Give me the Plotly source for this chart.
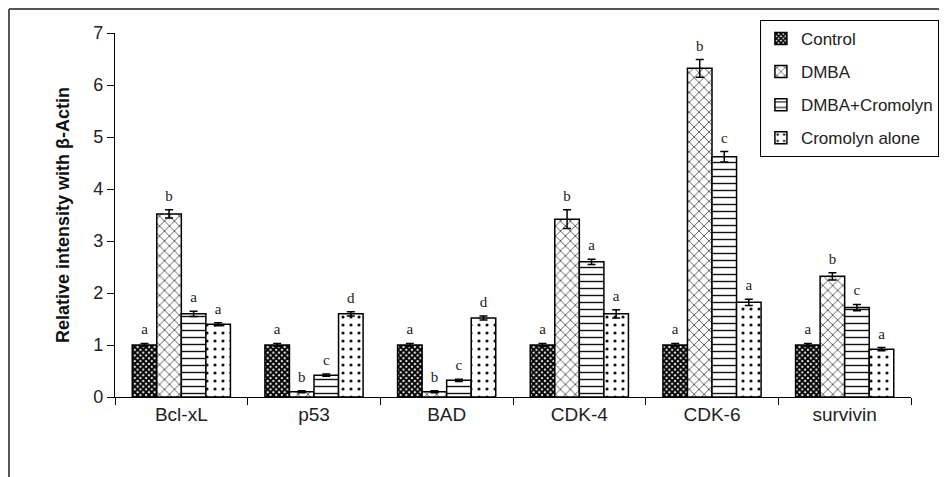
import plotly.graph_objects as go

categories = ["Bcl-xL", "p53", "BAD", "CDK-4", "CDK-6", "survivin"]
series_names = ["Control", "DMBA", "DMBA+Cromolyn", "Cromolyn alone"]

control = [1.0, 1.0, 1.0, 1.0, 1.0, 1.0]
dmba = [3.52, 0.1, 0.1, 3.42, 6.32, 2.32]
dmba_cromolyn = [1.6, 0.42, 0.32, 2.6, 4.62, 1.72]
cromolyn_alone = [1.4, 1.6, 1.52, 1.6, 1.82, 0.92]

control_err = [0.03, 0.03, 0.03, 0.03, 0.03, 0.03]
dmba_err = [0.08, 0.02, 0.02, 0.18, 0.17, 0.07]
dmba_cromolyn_err = [0.05, 0.02, 0.02, 0.05, 0.1, 0.06]
cromolyn_alone_err = [0.03, 0.04, 0.04, 0.08, 0.06, 0.03]

control_letters = ["a", "a", "a", "a", "a", "a"]
dmba_letters = ["b", "b", "b", "b", "b", "b"]
dmba_cromolyn_letters = ["a", "c", "c", "a", "c", "c"]
cromolyn_alone_letters = ["a", "d", "d", "a", "a", "a"]

values = [control, dmba, dmba_cromolyn, cromolyn_alone]
errors = [control_err, dmba_err, dmba_cromolyn_err, cromolyn_alone_err]
letters = [control_letters, dmba_letters, dmba_cromolyn_letters, cromolyn_alone_letters]

label_pad = 0.1

patterns = [
    dict(shape="x", size=4, solidity=0.75, fgcolor="#000000", bgcolor="#ffffff"),
    dict(shape="x", size=7, solidity=0.18, fgcolor="#111111", bgcolor="#ffffff"),
    dict(shape="-", size=7, solidity=0.2, fgcolor="#111111", bgcolor="#ffffff"),
    dict(shape=".", size=8, solidity=0.12, fgcolor="#111111", bgcolor="#ffffff"),
]

fig = go.Figure()
for i, name in enumerate(series_names):
    fig.add_trace(go.Bar(
        x=categories, y=values[i], name=name,
        legendgroup=name,
        marker=dict(color="#ffffff", pattern=patterns[i],
                    line=dict(color="#000000", width=1.5)),
        error_y=dict(type="data", array=errors[i], color="#000000",
                     thickness=1.5, width=4),
    ))

for i, name in enumerate(series_names):
    tops = [v + e + label_pad for v, e in zip(values[i], errors[i])]
    fig.add_trace(go.Scatter(
        x=categories, y=tops, mode="text", text=letters[i],
        textposition="top center",
        textfont=dict(family="Liberation Serif", size=15, color="#222222"),
        showlegend=False, hoverinfo="skip", cliponaxis=False,
    ))

fig.update_layout(
    template="none",
    width=947, height=477,
    margin=dict(l=107, r=44, t=25, b=88, autoexpand=False),
    paper_bgcolor="#ffffff", plot_bgcolor="#ffffff",
    barmode="group", bargap=0.26, bargroupgap=0,
    scattermode="group", scattergap=0.26,
    font=dict(family="Liberation Sans", color="#222222"),
    showlegend=True,
    legend=dict(xref="container", yref="container",
                x=0.794, y=0.975, xanchor="left", yanchor="top",
                bgcolor="#ffffff", bordercolor="#000000", borderwidth=1,
                font=dict(size=17, color="#222222"),
                tracegroupgap=8, itemwidth=30),
    xaxis=dict(showline=True, linecolor="#000000", linewidth=1.2,
               ticks="outside", ticklen=7, tickcolor="#000000",
               tickson="boundaries", tickfont=dict(size=19),
               showgrid=False, zeroline=False, automargin=False),
    yaxis=dict(range=[0, 7], dtick=1, showline=True, linecolor="#000000",
               linewidth=1.2, ticks="outside", ticklen=7, tickcolor="#000000",
               tickfont=dict(size=18), showgrid=False, zeroline=False,
               automargin=False,
               title=dict(text="<b>Relative intensity with β-Actin</b>",
                          font=dict(size=18, color="#111111"))),
    shapes=[
        dict(type="line", xref="paper", yref="paper", x0=-0.1332, x1=1.04,
             y0=1.066, y1=1.066, line=dict(color="#555555", width=2)),
        dict(type="line", xref="paper", yref="paper", x0=-0.1332, x1=-0.1332,
             y0=1.066, y1=-0.24, line=dict(color="#555555", width=2)),
    ],
)

fig.write_html("out.html")
